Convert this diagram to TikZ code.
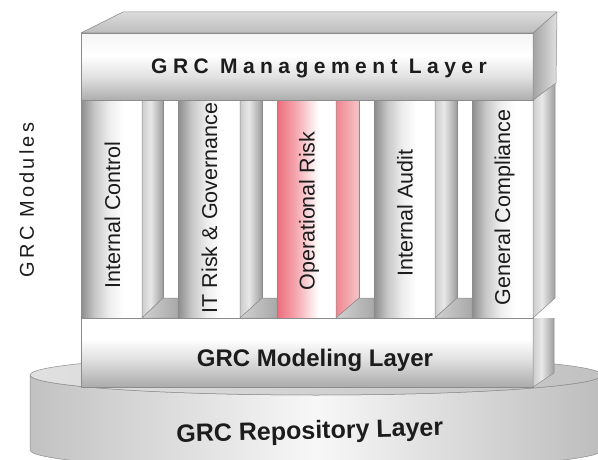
\documentclass[tikz,border=0pt]{standalone}
\usepackage{fontspec}
\setmainfont{Liberation Sans}
\newfontfamily\mgmtfont[LetterSpace=26]{Liberation Sans}
\newfontfamily\modsfont[LetterSpace=16]{Liberation Sans}
\definecolor{pinkA}{HTML}{EC6E7C}
\definecolor{pinkB}{HTML}{F4A3AB}
\definecolor{pinkC}{HTML}{EF8590}
\definecolor{pinkD}{HTML}{F8C6CA}
\definecolor{txt}{HTML}{1C1C1C}
\pgfdeclarehorizontalshading{colfront}{100bp}{color(0bp)=(black!45); color(25bp)=(black!45); color(36bp)=(black!22); color(48bp)=(black!7); color(60bp)=(white); color(75bp)=(white); color(100bp)=(white)}
\pgfdeclarehorizontalshading{pinkfront}{100bp}{color(0bp)=(pinkA); color(25bp)=(pinkA); color(40bp)=(pinkB); color(60bp)=(white); color(75bp)=(white); color(100bp)=(white)}
\pgfdeclarehorizontalshading{colside}{100bp}{color(0bp)=(black!20); color(25bp)=(black!20); color(45bp)=(black!9); color(75bp)=(black!38); color(100bp)=(black!38)}
\pgfdeclarehorizontalshading{pinkside}{100bp}{color(0bp)=(pinkC); color(25bp)=(pinkC); color(75bp)=(pinkD); color(100bp)=(pinkD)}
\pgfdeclarehorizontalshading{floorshade}{100bp}{color(0bp)=(black!18); color(25bp)=(black!18); color(75bp)=(black!34); color(100bp)=(black!34)}
\pgfdeclarehorizontalshading{cylside}{100bp}{color(0bp)=(black!24); color(25bp)=(black!24); color(50bp)=(black!3); color(75bp)=(black!26); color(100bp)=(black!26)}
\pgfdeclarehorizontalshading{cyltop}{100bp}{color(0bp)=(black!12); color(25bp)=(black!12); color(75bp)=(black!24); color(100bp)=(black!24)}
\pgfdeclarehorizontalshading{rside}{100bp}{color(0bp)=(black!36); color(25bp)=(black!36); color(75bp)=(black!12); color(100bp)=(black!12)}
\pgfdeclareverticalshading{mgmtfront}{100bp}{color(0bp)=(black!32); color(25bp)=(black!32); color(42bp)=(black!12); color(58bp)=(white); color(75bp)=(black!4); color(100bp)=(black!4)}
\pgfdeclareverticalshading{modfront}{100bp}{color(0bp)=(black!33); color(25bp)=(black!33); color(45bp)=(black!12); color(60bp)=(white); color(75bp)=(white); color(100bp)=(white)}
\pgfdeclareverticalshading{topface}{100bp}{color(0bp)=(black!26); color(25bp)=(black!26); color(75bp)=(black!14); color(100bp)=(black!14)}
\begin{document}
\begin{tikzpicture}[x=1pt,y=-1pt,line join=round,
  ln/.style={draw=black!45,line width=0.5pt},
  sh/.style={shade,shading=#1,ln},
  lbl/.style={font=\fontsize{21.5}{21.5}\selectfont,text=txt,inner sep=0pt,rotate=90,anchor=base},
  layer/.style={font=\bfseries\fontsize{#1}{#1}\selectfont,text=txt,inner sep=0pt,anchor=base}]
\useasboundingbox (0,0) rectangle (598,460);
\clip (0,0) rectangle (598,460);
% repository cylinder
\path[sh=cylside] (30,375) -- (30,450) arc[start angle=180,end angle=0,x radius=286,y radius=20] -- (602,375) arc[start angle=0,end angle=180,x radius=286,y radius=20] -- cycle;
\path[sh=cyltop] (316,375) ellipse[x radius=286,y radius=20];
% modeling layer
\path[sh=modfront] (81,318) rectangle (533,387);
\path[sh=colside] (533,318) -- (554,298) -- (554,373) -- (533,387) -- cycle;
% back wall
\fill[white] (81,98) rectangle (555,318);
% column 1
\path[sh=colfront] (81,100) rectangle (142,318);
\path[sh=colside] (142,100) -- (163,100) -- (163,298) -- (142,318) -- cycle;
\path[ln,fill=white] (163,100) rectangle (178,298);
\path[sh=floorshade] (142,318) -- (163,298) -- (178,298) -- (178,318) -- cycle;
% column 2
\path[sh=colfront] (178,100) rectangle (240,318);
\path[sh=colside] (240,100) -- (262,100) -- (262,298) -- (240,318) -- cycle;
\path[ln,fill=white] (262,100) rectangle (277,298);
\path[sh=floorshade] (240,318) -- (262,298) -- (277,298) -- (277,318) -- cycle;
% column 3
\path[sh=pinkfront] (277,100) rectangle (336,318);
\path[sh=pinkside] (336,100) -- (359,100) -- (359,298) -- (336,318) -- cycle;
\path[ln,fill=white] (359,100) rectangle (374,298);
\path[sh=floorshade] (336,318) -- (359,298) -- (374,298) -- (374,318) -- cycle;
% column 4
\path[sh=colfront] (374,100) rectangle (435,318);
\path[sh=colside] (435,100) -- (457,100) -- (457,298) -- (435,318) -- cycle;
\path[ln,fill=white] (457,100) rectangle (472,298);
\path[sh=floorshade] (435,318) -- (457,298) -- (472,298) -- (472,318) -- cycle;
% column 5
\path[sh=colfront] (472,100) rectangle (533,318);
\path[sh=colside] (533,100) -- (555,83) -- (555,298) -- (533,318) -- cycle;
% management layer
\path[sh=mgmtfront] (81,33) rectangle (533,100);
\path[sh=topface] (81,33) -- (123,12) -- (557,12) -- (533,33) -- cycle;
\path[sh=rside] (533,33) -- (557,12) -- (556,83) -- (533,100) -- cycle;
% texts
\node[layer=21] (mgmt) at (319,74) {\mgmtfont GRC Management Layer};
\node[layer=24] (model) at (315,366) {GRC Modeling Layer};
\node[layer=25,rotate=1.5] (repo) at (310,439) {GRC Repository Layer};
\node[lbl] (m1) at (120,215) {Internal Control};
\node[lbl] (m2) at (217,208) {IT Risk \& Governance};
\node[lbl] (m3) at (314.5,211) {Operational Risk};
\node[lbl] (m4) at (412.5,213) {Internal Audit};
\node[lbl] (m5) at (510,207.5) {General Compliance};
\node[font=\modsfont\fontsize{20}{20}\selectfont,text=txt,inner sep=0pt,rotate=90,anchor=base] (mods) at (34,200) {GRC Modules};
\end{tikzpicture}
\end{document}
